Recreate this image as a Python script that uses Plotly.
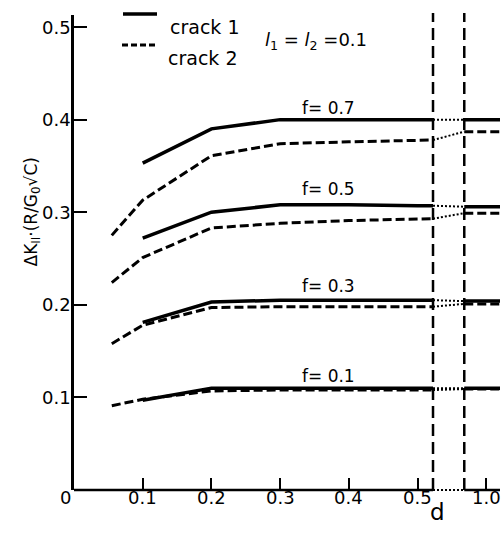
import plotly.graph_objects as go

# ---------------- data ----------------
d_values = [0.055, 0.1, 0.2, 0.3, 0.4, 0.5]          # d (left part of broken axis)
f_labels = ["f= 0.7", "f= 0.5", "f= 0.3", "f= 0.1"]
f_label_y = [0.413, 0.325, 0.220, 0.123]

crack1 = {  # None where no value
    "0.7": [None, 0.353, 0.390, 0.400, 0.400, 0.400],
    "0.5": [None, 0.272, 0.300, 0.308, 0.308, 0.307],
    "0.3": [None, 0.181, 0.203, 0.205, 0.205, 0.205],
    "0.1": [None, 0.097, 0.110, 0.110, 0.110, 0.110],
}
crack2 = {
    "0.7": [0.275, 0.313, 0.361, 0.374, 0.376, 0.378],
    "0.5": [0.224, 0.251, 0.283, 0.288, 0.291, 0.293],
    "0.3": [0.158, 0.178, 0.197, 0.198, 0.198, 0.198],
    "0.1": [0.091, 0.098, 0.107, 0.108, 0.108, 0.108],
}
# values at d = 1.0 (right of the axis break)
crack1_d1 = {"0.7": 0.400, "0.5": 0.306, "0.3": 0.204, "0.1": 0.110}
crack2_d1 = {"0.7": 0.387, "0.5": 0.299, "0.3": 0.201, "0.1": 0.109}

x_tickvals = [0.1, 0.2, 0.3, 0.4, 0.5, 0.6]
x_ticktext = ["0.1", "0.2", "0.3", "0.4", "0.5", "1.0"]
y_tickvals = [0.1, 0.2, 0.3, 0.4, 0.5]
y_ticktext = ["0.1", "0.2", "0.3", "0.4", "0.5"]

# broken-axis layout positions
BREAK_L = 0.5225
BREAK_R = 0.568
X_END = 0.62
Y_TOP = 0.513

FONT = "DejaVu Sans"
W, H = 504, 540
ML, MR, MT, MB = 74, 4, 15, 50
PW, PH = W - ML - MR, H - MT - MB


def px(xp):
    return (xp - ML) / PW


def py(yp):
    return (H - MB - yp) / PH


fig = go.Figure()

SOLID = dict(color="black", width=3.5)
DASH = dict(color="black", width=3, dash="9px,4px")
DOT = dict(color="black", width=2, dash="2px,2px")

for key in ["0.7", "0.5", "0.3", "0.1"]:
    for series, right, style in [(crack1, crack1_d1, SOLID), (crack2, crack2_d1, DASH)]:
        xs = [d for d, v in zip(d_values, series[key]) if v is not None] + [BREAK_L]
        ys = [v for v in series[key] if v is not None] + [series[key][-1]]
        fig.add_trace(go.Scatter(x=xs, y=ys, mode="lines", line=style,
                                 showlegend=False, hoverinfo="skip"))
        fig.add_trace(go.Scatter(x=[BREAK_L, BREAK_R], y=[series[key][-1], right[key]],
                                 mode="lines", line=DOT, showlegend=False, hoverinfo="skip"))
        fig.add_trace(go.Scatter(x=[BREAK_R, X_END], y=[right[key], right[key]],
                                 mode="lines", line=style, showlegend=False, hoverinfo="skip"))

shapes = []
# x axis line with a dotted break
shapes.append(dict(type="line", xref="x", yref="paper", x0=0, x1=BREAK_L, y0=0, y1=0,
                   line=dict(color="black", width=2.5)))
shapes.append(dict(type="line", xref="x", yref="paper", x0=BREAK_L, x1=BREAK_R, y0=0, y1=0,
                   line=dict(color="black", width=2, dash="2px,2px")))
shapes.append(dict(type="line", xref="x", yref="paper", x0=BREAK_R, x1=X_END, y0=0, y1=0,
                   line=dict(color="black", width=2.5)))
# vertical dashed break lines
for xb in [BREAK_L, BREAK_R]:
    shapes.append(dict(type="line", xref="x", yref="paper", x0=xb, x1=xb, y0=0, y1=py(13),
                       line=dict(color="black", width=2.5, dash="12px,6px")))
# legend lines
shapes.append(dict(type="line", xref="paper", yref="paper", x0=px(123), x1=px(157),
                   y0=py(14), y1=py(14), line=dict(color="black", width=3.5)))
shapes.append(dict(type="line", xref="paper", yref="paper", x0=px(122), x1=px(158),
                   y0=py(45), y1=py(45), line=dict(color="black", width=3, dash="6px,3px")))

annotations = []
# tick labels placed on the axes' own data coordinates
for tv, tt in zip(x_tickvals, x_ticktext):
    annotations.append(dict(x=tv, y=py(510), xref="x", yref="paper", text=tt,
                            showarrow=False, font=dict(family=FONT, size=18, color="black")))
for tv, tt in zip(y_tickvals, y_ticktext):
    annotations.append(dict(x=px(73), y=tv, xref="paper", yref="y", text=tt,
                            showarrow=False, xanchor="right",
                            font=dict(family=FONT, size=18, color="black")))
for lab, ly in zip(f_labels, f_label_y):
    annotations.append(dict(x=0.37, y=ly, xref="x", yref="y", text=lab, showarrow=False,
                            font=dict(family=FONT, size=17, color="black")))
annotations.append(dict(x=px(168), y=py(14), xref="paper", yref="paper", text="crack 1",
                        showarrow=False, xanchor="left",
                        font=dict(family=FONT, size=19, color="black")))
annotations.append(dict(x=px(166), y=py(45), xref="paper", yref="paper", text="crack 2",
                        showarrow=False, xanchor="left",
                        font=dict(family=FONT, size=19, color="black")))
annotations.append(dict(x=px(316), y=py(27), xref="paper", yref="paper",
                        text="<i>l</i><sub>1</sub> = <i>l</i><sub>2</sub> =0.1",
                        showarrow=False, font=dict(family=FONT, size=18, color="black")))
annotations.append(dict(x=px(58), y=py(510), xref="paper", yref="paper", text="0",
                        showarrow=False, font=dict(family=FONT, size=18, color="black")))
annotations.append(dict(x=px(447), y=py(527), xref="paper", yref="paper", text="d",
                        showarrow=False, font=dict(family=FONT, size=23, color="black")))
annotations.append(dict(x=px(18), y=py(212), xref="paper", yref="paper",
                        text="ΔK<sub>II</sub>·(R/G<sub>0</sub>√C)", textangle=-90,
                        showarrow=False, font=dict(family=FONT, size=17, color="black")))

fig.update_layout(
    width=W, height=H,
    margin=dict(l=ML, r=MR, t=MT, b=MB),
    paper_bgcolor="white", plot_bgcolor="white",
    shapes=shapes, annotations=annotations,
    showlegend=False,
    xaxis=dict(range=[0, X_END], tickvals=x_tickvals, showticklabels=False,
               ticks="inside", ticklen=12, tickwidth=2, tickcolor="black",
               showline=False, showgrid=False, zeroline=False),
    yaxis=dict(range=[0, Y_TOP], tickvals=y_tickvals, showticklabels=False,
               ticks="inside", ticklen=13, tickwidth=2, tickcolor="black",
               showline=True, linewidth=2.5, linecolor="black",
               showgrid=False, zeroline=False),
)

fig.write_html("out.html", config={"displayModeBar": False},
               post_script="document.body.style.margin='0';document.body.style.padding='0';")
